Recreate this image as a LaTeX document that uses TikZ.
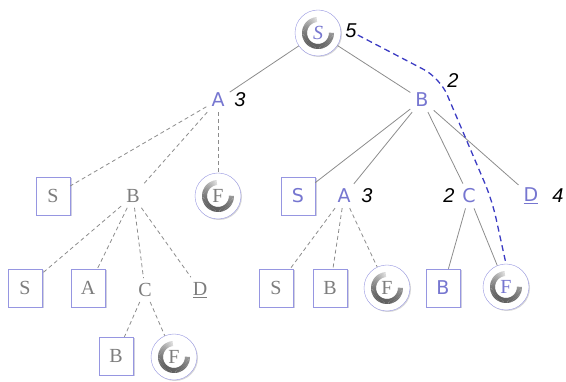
\documentclass[tikz,border=0pt]{standalone}
\usepackage{fontspec}
\setmainfont{Liberation Serif}
\setsansfont{DejaVu Sans}
\newfontfamily\numfont{Liberation Sans}
\usepackage{tikz}
\usetikzlibrary{shadows}

\definecolor{nodeblue}{RGB}{118,118,208}
\definecolor{boxline}{RGB}{150,150,225}
\definecolor{textgray}{RGB}{125,125,125}
\definecolor{edgegray}{RGB}{140,140,140}
\definecolor{pathblue}{RGB}{60,60,195}

\begin{document}
\begin{tikzpicture}[
            x=1pt, y=-1pt,
            every node/.style={font=\fontsize{20}{20}\selectfont},
            open/.style={inner sep=5pt, text=nodeblue, font=\sffamily\fontsize{19}{19}\selectfont},
            closed/.style={inner sep=5pt, text=textgray},
            box/.style={
                draw=boxline, fill=white, inner sep=0pt,
                minimum width=34pt, minimum height=38pt,
                drop shadow={shadow xshift=1.5pt, shadow yshift=-1.5pt, opacity=0.4, fill=boxline!50!gray}
            },
            goal/.style={
                circle, draw=boxline, fill=white, inner sep=0pt, minimum size=46pt,
                drop shadow={shadow xshift=1pt, shadow yshift=-1pt, opacity=0.3, fill=gray},
                path picture={
                    \foreach \a in {95,100,...,355} {
                        \pgfmathsetmacro\g{max(10, 62-0.2*((\a-250)/10)^2)}
                        \draw[line width=5pt, black!\g]
                            ([shift={(\a:13.5pt)}]path picture bounding box.center) --
                            ([shift={(\a+6:13.5pt)}]path picture bounding box.center);
                    }
                }
            },
            cost/.style={inner sep=1pt, font=\numfont\itshape\fontsize{20}{20}\selectfont},
            tree/.style={draw=edgegray, line width=0.8pt},
            pruned/.style={tree, dash pattern=on 4pt off 3pt}
        ]
            \useasboundingbox (0,0) rectangle (566,382);

            \node[goal, text=nodeblue, font=\itshape\fontsize{20}{20}\selectfont] (s) at (318,33) {S};
            \node[cost] (s-cost) at (351,31) {5};

            \node[open] (a) at (218,100) {A};
            \node[cost] (a-cost) at (240,100) {3};
            \node[open] (b) at (422,100) {B};
            \node[cost] (b-cost) at (453,81) {2};

            \node[box, text=textgray] (as) at (53,196) {S};
            \node[closed] (ab) at (133,196) {B};
            \node[goal, text=textgray] (af) at (218,196) {F};
            \node[box, text=nodeblue, font=\sffamily\fontsize{19}{19}\selectfont] (bs) at (298,196) {S};
            \node[open] (ba) at (344,196) {A};
            \node[cost] (ba-cost) at (367,196) {3};
            \node[cost] (bc-cost) at (449,196) {2};
            \node[open] (bc) at (469,196) {C};
            \node[open] (bd) at (531,196) {\underline{D}};
            \node[cost] (bd-cost) at (558,196) {4};

            \node[box, text=textgray] (abs) at (25,288) {S};
            \node[box, text=textgray] (aba) at (88,288) {A};
            \node[closed] (abc) at (145,290) {C};
            \node[closed] (abd) at (200,290) {\underline{D}};
            \node[box, text=textgray] (bas) at (276,288) {S};
            \node[box, text=textgray] (bab) at (330,288) {B};
            \node[goal, text=textgray] (baf) at (387,288) {F};
            \node[box, text=nodeblue, font=\sffamily\fontsize{19}{19}\selectfont] (bcb) at (443,288) {B};
            \node[goal, text=nodeblue] (bcf) at (506,287) {F};

            \node[box, text=textgray] (abcb) at (116,356) {B};
            \node[goal, text=textgray] (abcf) at (174,357) {F};

            \foreach \u/\v in {s/a, s/b, b/bs, b/ba, b/bc, b/bd, bc/bcb, bc/bcf} {
                \draw[tree] (\u) -- (\v);
            }
            \foreach \u/\v in {a/as, a/ab, a/af, ab/abs, ab/aba, ab/abc, ab/abd, abc/abcb, abc/abcf, ba/bas, ba/bab, ba/baf} {
                \draw[pruned] (\u) -- (\v);
            }

            \coordinate (turn1) at (440,78);
            \coordinate (turn2) at (492,200);
            \draw[pathblue, line width=1.3pt, dash pattern=on 6pt off 4pt, rounded corners=18pt]
                ([yshift=-4pt]s-cost.east) -- (turn1) -- (turn2) -- (bcf.north);
        \end{tikzpicture}
\end{document}
